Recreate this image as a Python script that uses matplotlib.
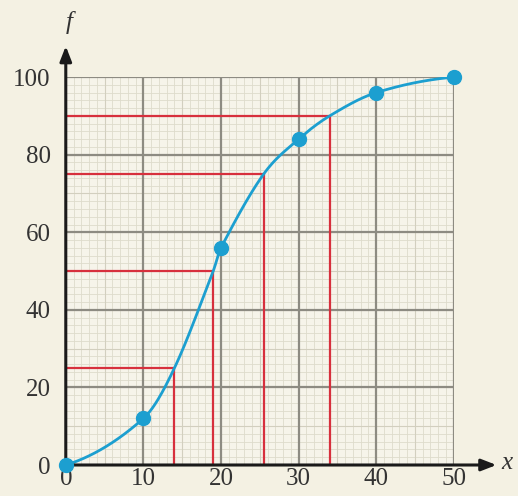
import numpy as np
import matplotlib
matplotlib.use("Agg")
import matplotlib.pyplot as plt

# ---- data ----
x_points = [0, 10, 20, 30, 40, 50]
f_points = [0, 12, 56, 84, 96, 100]

# readings drawn in red: (f level, x where it meets the curve)
read_f = [25, 50, 75, 90]
read_x = [14, 19, 25.5, 34]

x_ticks = [0, 10, 20, 30, 40, 50]
f_ticks = [0, 20, 40, 60, 80, 100]

BG = "#f4f1e3"
BLUE = "#1c9fd0"
RED = "#d7303d"


def smooth_curve(xk, yk, xs):
    # cubic hermite, slopes from neighbouring knots (cardinal spline)
    xk = np.asarray(xk, float)
    yk = np.asarray(yk, float)
    h = np.diff(xk)
    d = np.diff(yk) / h
    m = np.zeros_like(xk)
    m[1:-1] = (yk[2:] - yk[:-2]) / (xk[2:] - xk[:-2])
    m[0] = 2 * d[0] - m[1]
    m[-1] = 2 * d[-1] - m[-2]
    idx = np.clip(np.searchsorted(xk, xs) - 1, 0, len(h) - 1)
    t = (xs - xk[idx]) / h[idx]
    h00 = 2 * t**3 - 3 * t**2 + 1
    h10 = t**3 - 2 * t**2 + t
    h01 = -2 * t**3 + 3 * t**2
    h11 = t**3 - t**2
    return (h00 * yk[idx] + h10 * h[idx] * m[idx]
            + h01 * yk[idx + 1] + h11 * h[idx] * m[idx + 1])


fig = plt.figure(figsize=(5.18, 4.96), dpi=100, facecolor=BG)
ax = fig.add_axes([0.127, 0.0625, 0.749, 0.782], facecolor="#f6f4ea")
ax.set_xlim(0, 50)
ax.set_ylim(0, 100)

# ---- graph paper ----
for v in np.arange(0, 51, 1):
    ax.axvline(v, color="#dedbcc", lw=0.6, zorder=0)
for v in np.arange(0, 101, 2):
    ax.axhline(v, color="#dedbcc", lw=0.6, zorder=0)
for v in np.arange(5, 50, 10):
    ax.axvline(v, color="#d2cfbf", lw=0.8, zorder=0)
for v in np.arange(10, 100, 10):
    ax.axhline(v, color="#d2cfbf", lw=0.8, zorder=0)
for v in x_ticks[1:]:
    ax.axvline(v, color="#8d8b82", lw=1.6, zorder=1)
for v in f_ticks[1:]:
    ax.axhline(v, color="#8d8b82", lw=1.6, zorder=1)

# ---- red reading lines ----
for fx, xx in zip(read_f, read_x):
    ax.plot([0, xx, xx], [fx, fx, 0], color=RED, lw=1.6, zorder=2)

# ---- cumulative frequency curve ----
knots = sorted(zip(x_points + read_x, f_points + read_f))
kx = [k[0] for k in knots]
kf = [k[1] for k in knots]
xs = np.linspace(0, 50, 400)
ax.plot(xs, smooth_curve(kx, kf, xs), color=BLUE, lw=2, zorder=3)
ax.scatter(x_points, f_points, s=100, color=BLUE, zorder=4, clip_on=False)

# ---- axes ----
for s in ax.spines.values():
    s.set_visible(False)
ax.set_xticks(x_ticks)
ax.set_yticks(f_ticks)
ax.tick_params(length=0, labelsize=18)
ax.tick_params(axis="y", pad=11)
ax.tick_params(axis="x", pad=2)
for lab in ax.get_xticklabels() + ax.get_yticklabels():
    lab.set_family("Liberation Serif")
    lab.set_color("#333333")

ax.annotate("", xy=(0, 108), xytext=(0, -0.5),
            arrowprops=dict(arrowstyle="-|>,head_length=0.9,head_width=0.35",
                            color="#1a1a1a", lw=2.2, shrinkA=0, shrinkB=0),
            annotation_clip=False)
ax.annotate("", xy=(55.5, 0), xytext=(-0.3, 0),
            arrowprops=dict(arrowstyle="-|>,head_length=0.9,head_width=0.35",
                            color="#1a1a1a", lw=2.2, shrinkA=0, shrinkB=0),
            annotation_clip=False)
ax.text(0.5, 114, "f", fontsize=18, style="italic", family="Liberation Serif",
        color="#333333", ha="center", va="center", clip_on=False)
ax.text(56.8, 0.5, "x", fontsize=18, style="italic", family="Liberation Serif",
        color="#333333", ha="center", va="center", clip_on=False)

fig.savefig("out.png", dpi=100, facecolor=BG)
